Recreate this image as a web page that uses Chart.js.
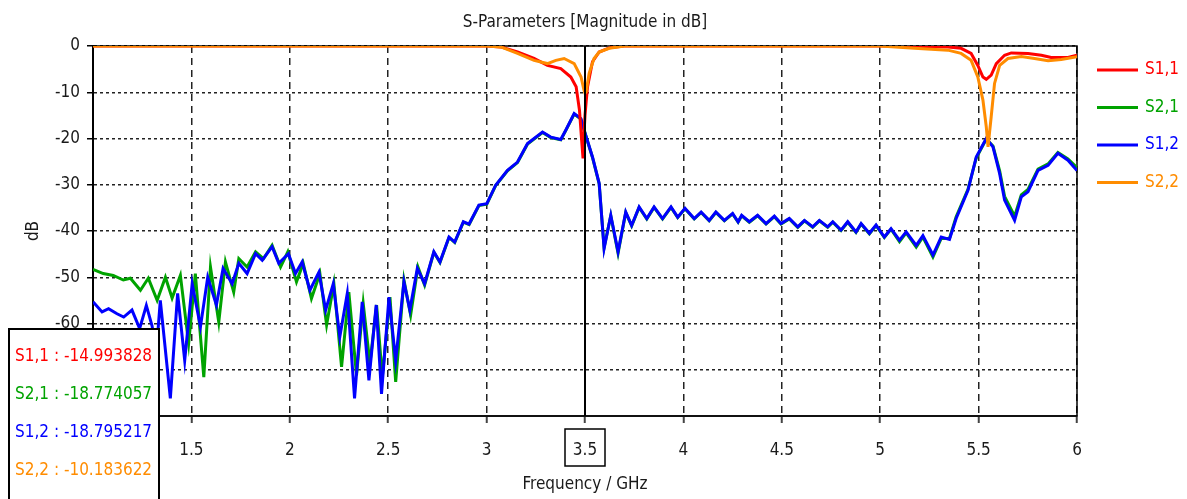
<!DOCTYPE html>
<html>
<head>
<meta charset="utf-8">
<title>S-Parameters</title>
<script src="https://cdn.jsdelivr.net/npm/chart.js@4/dist/chart.umd.min.js"></script>
<style>
  html, body { margin: 0; padding: 0; background: #fff; }
</style>
</head>
<body>
<canvas id="sparam" width="1187" height="499"></canvas>
<script>
// S1,1
const s11Freq = [1.0, 3.0, 3.072, 3.157, 3.241, 3.309, 3.377, 3.428, 3.455, 3.472, 3.483, 3.490, 3.495, 3.500, 3.506, 3.513, 3.538, 3.572, 3.623, 3.7,
  5.0, 5.344, 5.411, 5.462, 5.496, 5.522, 5.539, 5.564, 5.590, 5.632, 5.666, 5.751, 5.819, 5.869, 5.954, 6.0];
const s11Db = [0, 0, -0.2, -1.3, -2.7, -4.2, -4.9, -6.7, -8.8, -13.9, -20.4, -24.3, -19.0, -15.0, -12.0, -8.8, -3.4, -1.3, -0.4, 0,
  0, -0.2, -0.5, -1.6, -4.2, -6.7, -7.2, -6.3, -3.8, -2.0, -1.5, -1.6, -2.0, -2.5, -2.5, -2.0];

// S2,2
const s22Freq = [1.0, 3.0, 3.072, 3.157, 3.241, 3.309, 3.352, 3.394, 3.445, 3.480, 3.495, 3.500, 3.506, 3.521, 3.546, 3.572, 3.623, 3.7,
  5.0, 5.174, 5.344, 5.411, 5.462, 5.496, 5.522, 5.539, 5.548, 5.564, 5.581, 5.607, 5.649, 5.717, 5.784, 5.853, 5.920, 6.0];
const s22Db = [0, 0, -0.2, -1.6, -3.1, -3.8, -3.1, -2.7, -3.8, -6.7, -9.6, -10.2, -9.9, -5.9, -2.7, -1.3, -0.5, 0,
  0, -0.5, -0.9, -1.6, -3.1, -6.7, -11.7, -17.5, -21.8, -15.3, -8.1, -4.2, -2.7, -2.3, -2.7, -3.2, -2.9, -2.3];

// S1,2
const s12Freq = [1.0, 1.046, 1.079, 1.122, 1.156, 1.198, 1.237, 1.271, 1.300, 1.322, 1.342, 1.393, 1.430, 1.466, 1.504, 1.546, 1.583, 1.627,
  1.661, 1.707, 1.741, 1.783, 1.826, 1.860, 1.910, 1.944, 1.993, 2.029, 2.063, 2.102, 2.148, 2.182, 2.221, 2.254, 2.292, 2.329,
  2.368, 2.402, 2.439, 2.466, 2.504, 2.538, 2.580, 2.610, 2.648, 2.685, 2.732, 2.763, 2.809, 2.838, 2.882, 2.911, 2.961, 3.001,
  3.046, 3.106, 3.157, 3.208, 3.284, 3.326, 3.377, 3.402, 3.445, 3.479, 3.500, 3.538, 3.572, 3.597, 3.631, 3.668, 3.707, 3.737,
  3.775, 3.814, 3.851, 3.894, 3.937, 3.971, 4.008, 4.055, 4.090, 4.131, 4.165, 4.208, 4.250, 4.278, 4.296, 4.335, 4.377, 4.420,
  4.462, 4.496, 4.538, 4.581, 4.615, 4.657, 4.691, 4.733, 4.759, 4.801, 4.835, 4.877, 4.903, 4.945, 4.979, 5.021, 5.055, 5.098,
  5.132, 5.183, 5.217, 5.268, 5.310, 5.352, 5.386, 5.446, 5.488, 5.539, 5.573, 5.607, 5.632, 5.683, 5.717, 5.751, 5.802, 5.853,
  5.903, 5.954, 6.0];
const s12Db = [-55.3, -57.5, -56.8, -57.9, -58.6, -57.1, -61.1, -56.1, -60.5, -66.0, -55.0, -76.2, -53.5, -68.0, -51.4, -60.7, -50.0, -56.0,
  -48.1, -51.4, -47.0, -49.2, -44.9, -46.3, -43.4, -47.0, -44.9, -49.2, -46.7, -52.8, -48.9, -57.1, -51.4, -62.9, -53.5, -76.2,
  -55.3, -72.3, -56.0, -75.2, -54.3, -68.0, -51.0, -57.1, -48.1, -51.4, -44.5, -46.7, -41.3, -42.4, -38.0, -38.5, -34.4, -34.1,
  -30.1, -26.9, -25.1, -21.1, -18.6, -19.7, -20.2, -18.2, -14.6, -15.7, -18.8, -24.0, -29.7, -43.8, -36.6, -44.5, -35.9, -38.8,
  -34.8, -37.3, -34.8, -37.3, -34.8, -37.0, -35.1, -37.3, -35.9, -37.7, -35.9, -37.7, -36.2, -38.0, -36.6, -38.0, -36.6, -38.4,
  -36.8, -38.4, -37.3, -39.1, -37.7, -39.1, -37.7, -39.1, -38.0, -39.8, -38.0, -40.2, -38.4, -40.5, -38.7, -41.3, -39.5, -42.0,
  -40.2, -43.1, -41.0, -45.2, -41.3, -41.8, -37.3, -31.2, -24.0, -20.0, -21.8, -27.6, -33.3, -37.7, -32.6, -31.5, -26.9, -25.8,
  -23.2, -24.7, -26.9];

// S2,1
const s21Freq = [1.0, 1.052, 1.103, 1.154, 1.190, 1.241, 1.281, 1.326, 1.368, 1.402, 1.444, 1.486, 1.520, 1.563, 1.597, 1.639, 1.673, 1.715,
  1.741, 1.783, 1.826, 1.866, 1.910, 1.953, 1.990, 2.034, 2.068, 2.110, 2.153, 2.187, 2.224, 2.263, 2.300, 2.339, 2.373, 2.407,
  2.441, 2.470, 2.509, 2.538, 2.580, 2.614, 2.651, 2.685, 2.732, 2.763, 2.809, 2.838, 2.882, 2.911, 2.961, 3.001,
  3.046, 3.106, 3.157, 3.208, 3.284, 3.326, 3.377, 3.402, 3.445, 3.479, 3.500, 3.538, 3.572, 3.597, 3.631, 3.668, 3.707, 3.737,
  3.775, 3.814, 3.851, 3.894, 3.937, 3.971, 4.008, 4.055, 4.090, 4.131, 4.165, 4.208, 4.250, 4.278, 4.296, 4.335, 4.377, 4.420,
  4.462, 4.496, 4.538, 4.581, 4.615, 4.657, 4.691, 4.733, 4.759, 4.801, 4.835, 4.877, 4.903, 4.945, 4.979, 5.021, 5.055, 5.098,
  5.132, 5.183, 5.217, 5.268, 5.310, 5.352, 5.386, 5.446, 5.488, 5.539, 5.573, 5.607, 5.632, 5.683, 5.717, 5.751, 5.802, 5.853,
  5.903, 5.954, 6.0];
const s21Db = [-48.3, -49.2, -49.6, -50.6, -50.2, -52.8, -50.2, -55.0, -50.0, -54.5, -49.6, -64.3, -49.2, -71.6, -47.8, -59.7, -46.7, -53.2,
  -46.0, -47.8, -44.5, -46.0, -43.1, -47.8, -44.5, -51.0, -47.0, -54.6, -49.2, -60.3, -51.4, -69.4, -53.2, -71.2, -55.7, -68.7,
  -56.0, -71.6, -54.3, -72.6, -50.6, -58.2, -47.8, -51.7, -44.6, -46.8, -41.4, -42.5, -38.1, -38.6, -34.5, -34.2,
  -30.2, -27.0, -25.2, -21.2, -18.7, -19.8, -20.3, -18.3, -14.7, -15.8, -18.8, -24.1, -29.8, -43.6, -36.7, -44.8, -36.0, -38.9,
  -34.9, -37.4, -34.9, -37.4, -34.9, -37.1, -35.2, -37.4, -36.0, -37.8, -36.0, -37.8, -36.3, -38.1, -36.7, -38.1, -36.7, -38.5,
  -36.9, -38.5, -37.4, -39.2, -37.8, -39.2, -37.8, -39.2, -38.1, -39.9, -38.1, -40.3, -38.5, -40.6, -38.8, -41.4, -39.6, -42.3,
  -40.4, -43.5, -41.3, -45.6, -41.6, -41.6, -36.9, -31.0, -24.2, -20.1, -21.6, -27.0, -32.5, -36.8, -32.2, -31.0, -26.6, -25.5,
  -23.0, -24.4, -26.3];

const seriesNames = ['S1,1', 'S2,1', 'S1,2', 'S2,2'];
const seriesColors = ['#ff0000', '#00a300', '#0000ff', '#ff8c00'];
const markerFreq = 3.5;
const markerValues = [-14.993828, -18.774057, -18.795217, -10.183622];

const fontFamily = "'DejaVu Sans Condensed', 'Liberation Sans Narrow', 'DejaVu Sans', sans-serif";
const textColor = '#1a1a1a';

function toPoints(freqs, values) {
    return freqs.map((f, i) => ({ x: f, y: values[i] }));
}

// rahmen um den plotbereich
const plotFrame = {
    id: 'plotFrame',
    beforeDatasetsDraw(chart) {
        const { ctx, chartArea: a } = chart;
        ctx.save();
        ctx.strokeStyle = '#000';
        ctx.lineWidth = 1.5;
        ctx.strokeRect(a.left, a.top, a.right - a.left, a.bottom - a.top);
        ctx.restore();
    }
};

// marker bei 3.5 GHz
const markerLine = {
    id: 'markerLine',
    afterDatasetsDraw(chart) {
        const { ctx, chartArea: a } = chart;
        const x = chart.scales.x.getPixelForValue(markerFreq);
        ctx.save();
        ctx.strokeStyle = '#000';
        ctx.lineWidth = 2;
        ctx.beginPath();
        ctx.moveTo(x, a.top);
        ctx.lineTo(x, a.bottom);
        ctx.stroke();
        ctx.lineWidth = 1.5;
        ctx.strokeRect(x - 20, a.bottom + 13, 40, 37);
        ctx.restore();
    }
};

// legende rechts und wertebox unten links
const sideLegend = {
    id: 'sideLegend',
    afterDraw(chart) {
        const { ctx, chartArea: a } = chart;
        ctx.save();
        ctx.font = '17px ' + fontFamily;
        ctx.textBaseline = 'middle';
        ctx.textAlign = 'left';
        seriesNames.forEach((name, i) => {
            const y = a.top + 24 + i * 37.5;
            ctx.strokeStyle = seriesColors[i];
            ctx.lineWidth = 3;
            ctx.beginPath();
            ctx.moveTo(a.right + 20, y);
            ctx.lineTo(a.right + 61, y);
            ctx.stroke();
            ctx.fillStyle = seriesColors[i];
            ctx.fillText(name, a.right + 68, y);
        });

        ctx.fillStyle = '#fff';
        ctx.fillRect(9, 329, 150, 190);
        ctx.strokeStyle = '#000';
        ctx.lineWidth = 2;
        ctx.strokeRect(9, 329, 150, 190);
        seriesNames.forEach((name, i) => {
            ctx.fillStyle = seriesColors[i];
            ctx.fillText(name + ' : ' + markerValues[i].toFixed(6), 15, 357 + i * 37.8);
        });
        ctx.restore();
    }
};

Chart.defaults.font.family = fontFamily;
Chart.defaults.color = textColor;

const order = [1, 3, 2, 0];
const freqs = [s11Freq, s21Freq, s12Freq, s22Freq];
const values = [s11Db, s21Db, s12Db, s22Db];

new Chart(document.getElementById('sparam'), {
    type: 'line',
    data: {
        datasets: seriesNames.map((name, i) => ({
            label: name,
            data: toPoints(freqs[i], values[i]),
            borderColor: seriesColors[i],
            backgroundColor: seriesColors[i],
            borderWidth: 3,
            pointRadius: 0,
            tension: 0,
            fill: false,
            order: order[i]
        }))
    },
    options: {
        responsive: false,
        animation: false,
        layout: { padding: { left: 0, right: 110, top: 0, bottom: 0 } },
        plugins: {
            legend: { display: false },
            tooltip: { enabled: false },
            title: {
                display: true,
                text: 'S-Parameters [Magnitude in dB]',
                fullSize: false,
                color: textColor,
                font: { size: 17, weight: 'normal' },
                padding: { top: 12, bottom: 13.6 }
            }
        },
        scales: {
            x: {
                type: 'linear',
                min: 1,
                max: 6,
                ticks: {
                    stepSize: 0.5, padding: 17, maxRotation: 0, autoSkip: false, color: textColor, font: { size: 17 },
                    callback: v => String(v)
                },
                grid: { color: '#222', lineWidth: 1.5, tickLength: 7, tickColor: '#444', tickWidth: 2 },
                border: { color: '#444', width: 2, dash: [7, 5] },
                title: { display: true, text: 'Frequency / GHz', color: textColor, font: { size: 17 }, padding: { top: 0, bottom: 4 } },
                afterFit(scale) { scale.height = 83; }
            },
            y: {
                min: -80,
                max: 0,
                ticks: { stepSize: 10, padding: 7, color: textColor, font: { size: 17 } },
                grid: { color: '#222', lineWidth: 1.5, tickLength: 6, tickColor: '#000', tickWidth: 1.5 },
                border: { color: '#000', width: 2, dash: [3, 3] },
                title: { display: true, text: 'dB', color: textColor, font: { size: 17 }, padding: { top: 23, bottom: 0 } },
                afterFit(scale) { scale.width = 93; }
            }
        }
    },
    plugins: [plotFrame, markerLine, sideLegend]
});
</script>
</body>
</html>
